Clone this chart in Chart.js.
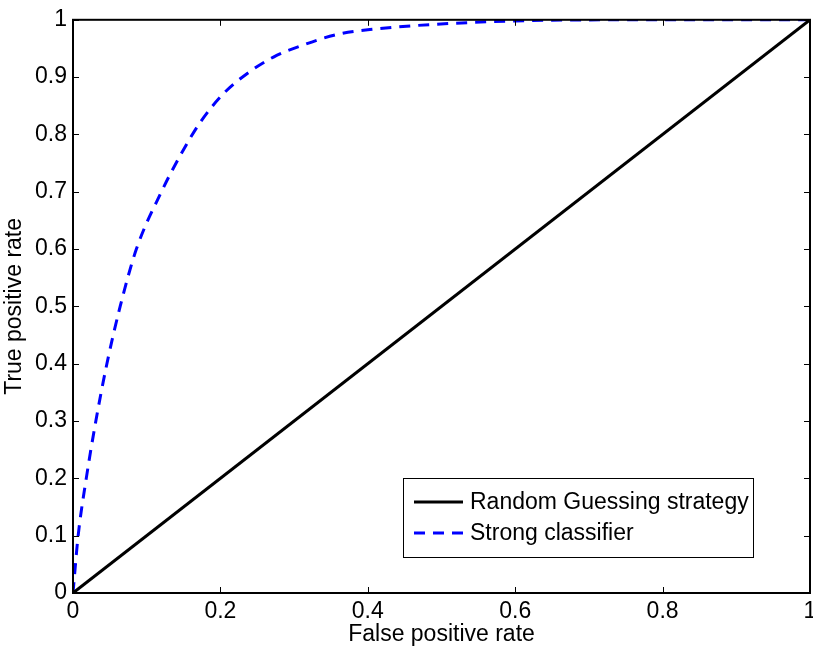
<!DOCTYPE html>
<html lang="en">
<head>
    <meta charset="UTF-8">
    <title>ROC curve</title>
    <style>
        body {
            margin: 0;
            padding: 0;
            background-color: #ffffff;
            overflow: hidden;
        }
        .chart-container {
            width: 813px;
            height: 652px;
        }
    </style>
</head>
<body>

<div class="chart-container">
    <canvas id="rocChart" width="813" height="652"></canvas>
</div>

<script src="https://cdn.jsdelivr.net/npm/chart.js"></script>

<script>
    // Random guessing: the diagonal
    const randomFpr = [0, 1];
    const randomTpr = [0, 1];

    // Strong classifier, values
    const strongFpr = [0, 0.007, 0.018, 0.031, 0.046, 0.064, 0.086, 0.12, 0.145, 0.172, 0.204, 0.236, 0.272, 0.31, 0.36, 0.41, 0.49, 0.60, 0.75, 1];
    const strongTpr = [0, 0.10, 0.20, 0.30, 0.40, 0.50, 0.60, 0.70, 0.762, 0.82, 0.871, 0.906, 0.935, 0.955, 0.975, 0.984, 0.992, 0.998, 1, 1];

    const xTicks = [0, 0.2, 0.4, 0.6, 0.8, 1];
    const yTicks = [0, 0.1, 0.2, 0.3, 0.4, 0.5, 0.6, 0.7, 0.8, 0.9, 1];

    const FONT = 'Liberation Sans, Arial, sans-serif';
    const FONT_SIZE = 23;

    function toPoints(xs, ys) {
        return xs.map((x, i) => ({ x: x, y: ys[i] }));
    }

    // Box around the plot, inward tick marks on all four sides and the legend
    const framePlugin = {
        id: 'frame',
        afterDraw(chart) {
            const ctx = chart.ctx;
            const a = chart.chartArea;
            const xs = chart.scales.x;
            const ys = chart.scales.y;
            const tl = 6;

            ctx.save();
            ctx.strokeStyle = '#000';
            ctx.lineWidth = 1;
            xTicks.forEach(v => {
                const px = Math.round(xs.getPixelForValue(v)) + 0.5;
                ctx.beginPath();
                ctx.moveTo(px, a.bottom); ctx.lineTo(px, a.bottom - tl);
                ctx.moveTo(px, a.top); ctx.lineTo(px, a.top + tl);
                ctx.stroke();
            });
            yTicks.forEach(v => {
                const py = Math.round(ys.getPixelForValue(v)) + 0.5;
                ctx.beginPath();
                ctx.moveTo(a.left, py); ctx.lineTo(a.left + tl, py);
                ctx.moveTo(a.right, py); ctx.lineTo(a.right - tl, py);
                ctx.stroke();
            });
            ctx.lineWidth = 2;
            ctx.strokeRect(a.left, a.top, a.right - a.left, a.bottom - a.top);

            // legend box, lower right of the plot
            const bx = 403, by = 478, bw = 350, bh = 79;
            ctx.fillStyle = '#fff';
            ctx.fillRect(bx, by, bw, bh);
            ctx.lineWidth = 1;
            ctx.strokeRect(bx + 0.5, by + 0.5, bw, bh);
            ctx.font = FONT_SIZE + 'px ' + FONT;
            ctx.textBaseline = 'middle';
            ctx.fillStyle = '#000';
            chart.data.datasets.forEach((ds, i) => {
                const ly = by + 24 + i * 31;
                ctx.strokeStyle = ds.borderColor;
                ctx.lineWidth = ds.borderWidth;
                ctx.setLineDash(ds.borderDash || []);
                ctx.beginPath();
                ctx.moveTo(bx + 11, ly); ctx.lineTo(bx + 60, ly);
                ctx.stroke();
                ctx.setLineDash([]);
                ctx.fillText(ds.label, bx + 67, ly + 1);
            });
            ctx.restore();
        }
    };

    const ctx = document.getElementById('rocChart').getContext('2d');
    const rocChart = new Chart(ctx, {
        type: 'line',
        data: {
            datasets: [{
                label: 'Random Guessing strategy',
                data: toPoints(randomFpr, randomTpr),
                borderColor: '#000000',
                borderWidth: 3,
                pointRadius: 0,
                tension: 0
            }, {
                label: 'Strong classifier',
                data: toPoints(strongFpr, strongTpr),
                borderColor: '#0000ff',
                borderWidth: 3,
                borderDash: [11, 8],
                pointRadius: 0,
                cubicInterpolationMode: 'monotone'
            }]
        },
        options: {
            responsive: false,
            animation: false,
            layout: { padding: { top: 12, right: 3, left: 0, bottom: 0 } },
            plugins: {
                legend: { display: false },
                tooltip: { enabled: false }
            },
            scales: {
                x: {
                    type: 'linear',
                    min: 0,
                    max: 1,
                    grid: { display: false, drawTicks: false },
                    border: { display: false },
                    afterBuildTicks: s => { s.ticks = xTicks.map(v => ({ value: v })); },
                    afterFit: s => { s.height = 59; s.paddingRight = 0; s.paddingLeft = 0; },
                    ticks: {
                        padding: 5,
                        color: '#000',
                        font: { family: FONT, size: FONT_SIZE },
                        maxRotation: 0,
                        callback: v => String(v)
                    },
                    title: {
                        display: true,
                        text: 'False positive rate',
                        color: '#000',
                        font: { family: FONT, size: FONT_SIZE },
                        padding: { top: 0, bottom: 4 }
                    }
                },
                y: {
                    min: 0,
                    max: 1,
                    grid: { display: false, drawTicks: false },
                    border: { display: false },
                    afterBuildTicks: s => { s.ticks = yTicks.map(v => ({ value: v })); },
                    afterFit: s => { s.width = 73; },
                    ticks: {
                        padding: 6,
                        color: '#000',
                        font: { family: FONT, size: FONT_SIZE },
                        callback: v => String(v)
                    },
                    title: {
                        display: true,
                        text: 'True positive rate',
                        color: '#000',
                        font: { family: FONT, size: FONT_SIZE },
                        padding: { top: 1, bottom: 0 }
                    }
                }
            }
        },
        plugins: [framePlugin]
    });
</script>

</body>
</html>
